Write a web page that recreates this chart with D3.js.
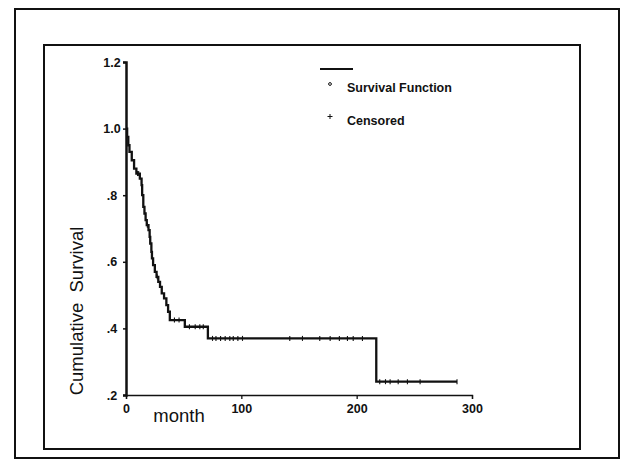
<!DOCTYPE html>
<html>
<head>
<meta charset="utf-8">
<script src="https://cdn.jsdelivr.net/npm/d3@7"></script>
<style>
  html, body { margin: 0; padding: 0; background: #fff; }
  svg { display: block; }
  text { font-family: "Liberation Sans", Arial, sans-serif; fill: #111; }
</style>
</head>
<body>
<svg id="chart" width="622" height="459"></svg>
<script>
// Kaplan-Meier estimate: month at which each step occurs and survival after it
const stepMonths = [0, 1, 2, 3, 5, 7, 9, 12, 13.5, 14, 15, 16, 17, 18, 19.5, 20.5, 21, 22, 22.5,
  23.5, 25, 26.5, 28, 29.5, 31, 33, 35, 36.5, 38, 51, 71, 217];
const stepSurvival = [1.0, 0.975, 0.95, 0.93, 0.905, 0.88, 0.865, 0.85, 0.83, 0.80, 0.765, 0.745,
  0.725, 0.71, 0.695, 0.675, 0.655, 0.63, 0.61, 0.59, 0.57, 0.555, 0.54, 0.525, 0.505, 0.49,
  0.47, 0.45, 0.425, 0.405, 0.37, 0.24];
const lastMonth = 287;

// censored observations (months)
const censorMonths = [10, 11, 18.5, 27, 42, 46, 55, 60, 64, 67, 75, 78, 82, 86, 90, 93, 97, 101,
  142, 153, 168, 177, 185, 192, 197, 205, 220, 225, 229, 236, 244, 255, 287];

// axis ticks
const xTicks = [0, 100, 200, 300];
const yTicks = [0.2, 0.4, 0.6, 0.8, 1.0, 1.2];
const yTickLabels = [".2", ".4", ".6", ".8", "1.0", "1.2"];

const legendItems = ["Survival Function", "Censored"];

const svg = d3.select("#chart");

const x = d3.scaleLinear().domain([0, 300]).range([126, 472]);
const y = d3.scaleLinear().domain([0.2, 1.2]).range([395, 62]);

// page frames
svg.append("rect").attr("x", 15).attr("y", 9).attr("width", 604).attr("height", 449)
  .attr("fill", "none").attr("stroke", "#111").attr("stroke-width", 2);
svg.append("rect").attr("x", 44).attr("y", 45).attr("width", 536).attr("height", 404)
  .attr("fill", "none").attr("stroke", "#111").attr("stroke-width", 2);

// x axis
const xAxis = svg.append("g").attr("transform", `translate(0,${y(0.2)})`)
  .call(d3.axisBottom(x).tickValues(xTicks).tickSize(4).tickPadding(5).tickFormat(d3.format("d")));
xAxis.select(".domain").attr("stroke", "#111").attr("stroke-width", 1.3);
xAxis.selectAll(".tick line").attr("stroke", "#111").attr("stroke-width", 1.3);
xAxis.selectAll("text").attr("font-size", 12.5).attr("font-weight", "bold")
  .attr("font-family", "Liberation Sans, Arial, sans-serif").attr("fill", "#111");

// y axis
const yAxis = svg.append("g").attr("transform", `translate(${x(0)},0)`)
  .call(d3.axisLeft(y).tickValues(yTicks).tickSize(3).tickPadding(6)
    .tickFormat((d, i) => yTickLabels[i]));
yAxis.select(".domain").attr("stroke", "#111").attr("stroke-width", 2.5);
yAxis.selectAll(".tick line").attr("stroke", "#111").attr("stroke-width", 1.5);
yAxis.selectAll("text").attr("font-size", 12.5).attr("font-weight", "bold")
  .attr("font-family", "Liberation Sans, Arial, sans-serif").attr("fill", "#111")
  .attr("text-anchor", "middle").attr("x", -14);

// axis titles
svg.append("text").attr("x", 179).attr("y", 422).attr("text-anchor", "middle")
  .attr("font-size", 18.5).text("month");
svg.append("text").attr("transform", "translate(83,311) rotate(-90)")
  .attr("text-anchor", "middle").attr("font-size", 18.5).attr("xml:space", "preserve")
  .style("white-space", "pre").text("Cumulative  Survival");

// survival curve as a step function
const curvePts = stepMonths.map((m, i) => [m, stepSurvival[i]]);
curvePts.push([lastMonth, stepSurvival[stepSurvival.length - 1]]);
const line = d3.line().x(d => x(d[0])).y(d => y(d[1])).curve(d3.curveStepAfter);
svg.append("path").datum(curvePts).attr("d", line)
  .attr("fill", "none").attr("stroke", "#111").attr("stroke-width", 2.3);

// survival value at a given month
const survAt = m => {
  const i = d3.bisectRight(stepMonths, m) - 1;
  return stepSurvival[Math.max(0, i)];
};
svg.append("g").selectAll("line").data(censorMonths).join("line")
  .attr("x1", d => x(d)).attr("x2", d => x(d))
  .attr("y1", d => y(survAt(d)) - 2.5).attr("y2", d => y(survAt(d)) + 2.5)
  .attr("stroke", "#111").attr("stroke-width", 1.1);

// legend
const lg = svg.append("g");
lg.append("line").attr("x1", 320).attr("x2", 353).attr("y1", 69).attr("y2", 69)
  .attr("stroke", "#111").attr("stroke-width", 2);
lg.append("circle").attr("cx", 330).attr("cy", 84).attr("r", 1.4)
  .attr("fill", "none").attr("stroke", "#111").attr("stroke-width", 1);
lg.append("line").attr("x1", 330).attr("x2", 330).attr("y1", 114).attr("y2", 119)
  .attr("stroke", "#111").attr("stroke-width", 1);
lg.append("line").attr("x1", 327.5).attr("x2", 332.5).attr("y1", 116.5).attr("y2", 116.5)
  .attr("stroke", "#111").attr("stroke-width", 1);
lg.selectAll("text.item").data(legendItems).join("text").attr("class", "item")
  .attr("x", 347).attr("y", (d, i) => 91.5 + i * 33)
  .attr("font-size", 12.5).attr("font-weight", "bold").text(d => d);
</script>
</body>
</html>
